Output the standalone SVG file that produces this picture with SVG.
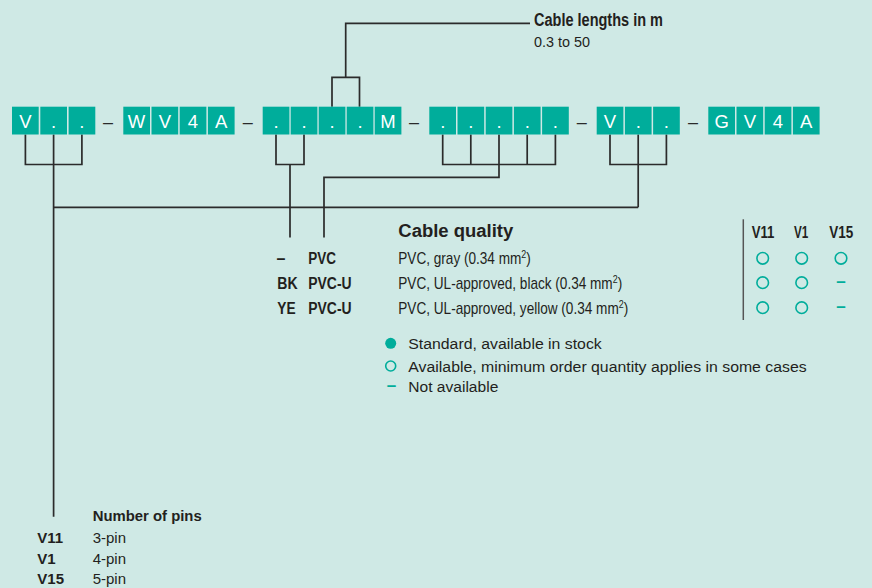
<svg xmlns="http://www.w3.org/2000/svg" width="872" height="588" viewBox="0 0 872 588">
<style>
.bx{fill:#00ad9b}
.bt{font-family:"Liberation Sans",Arial,sans-serif;font-size:18.5px;fill:#ffffff;text-anchor:middle}
.sep{font-family:"Liberation Sans",Arial,sans-serif;font-size:18px;fill:#2a2a2a;text-anchor:middle}
.ln{fill:none;stroke:#2b2b2b;stroke-width:1.7}
.t{font-family:"Liberation Sans",Arial,sans-serif;fill:#231f20}
.b{font-weight:bold}
.tl{fill:none;stroke:#00ad9b;stroke-width:1.6}
.td{font-family:"Liberation Sans",Arial,sans-serif;font-weight:bold;font-size:17px;fill:#00ad9b;text-anchor:middle}
</style>
<rect x="0" y="0" width="872" height="588" fill="#cfe9e5"/>

<g id="connectors">
  <path class="ln" d="M25.4 134.5 V164.5 H81.9 V134.5 M53.6 134.5 V516.7"/>
  <path class="ln" d="M53.6 207.3 H638.2"/>
  <path class="ln" d="M610 134.5 V164.5 H666.4 V134.5 M638.2 134.5 V207.3"/>
  <path class="ln" d="M276 134.5 V164.5 H304 V134.5 M290 164.5 V237.5"/>
  <path class="ln" d="M442.7 134.5 V164.5 H555.4 V134.5 M470.8 134.5 V164.5 M527.2 134.5 V164.5 M499 134.5 V177.3 H324 V237.5"/>
  <path class="ln" d="M332 106.7 V77.3 H359.5 V106.7 M345.7 77.3 V23.3 H530"/>
  <path d="M743.3 219.3 V320" stroke="#555" stroke-width="1.5" fill="none"/>
</g>

<g id="seg-v1">
  <rect class="bx" x="12" y="106.7" width="26.7" height="27.8"/>
  <rect class="bx" x="40.3" y="106.7" width="26.7" height="27.8"/>
  <rect class="bx" x="68.6" y="106.7" width="26.7" height="27.8"/>
  <text class="bt" x="25.4" y="127.5">V</text>
  <text class="bt" x="53.6" y="127.5">.</text>
  <text class="bt" x="81.9" y="127.5">.</text>
</g>
<text class="sep" x="108" y="127.5">–</text>
<g id="seg-wv4a">
  <rect class="bx" x="123.3" y="106.7" width="26.7" height="27.8"/>
  <rect class="bx" x="151.5" y="106.7" width="26.7" height="27.8"/>
  <rect class="bx" x="179.7" y="106.7" width="26.7" height="27.8"/>
  <rect class="bx" x="207.9" y="106.7" width="26.7" height="27.8"/>
  <text class="bt" x="136.6" y="127.5">W</text>
  <text class="bt" x="164.8" y="127.5">V</text>
  <text class="bt" x="193" y="127.5">4</text>
  <text class="bt" x="221.2" y="127.5">A</text>
</g>
<text class="sep" x="247.7" y="127.5">–</text>
<g id="seg-length">
  <rect class="bx" x="262.7" y="106.7" width="26.7" height="27.8"/>
  <rect class="bx" x="290.7" y="106.7" width="26.7" height="27.8"/>
  <rect class="bx" x="318.7" y="106.7" width="26.7" height="27.8"/>
  <rect class="bx" x="346.7" y="106.7" width="26.7" height="27.8"/>
  <rect class="bx" x="374.7" y="106.7" width="26.7" height="27.8"/>
  <text class="bt" x="276" y="127.5">.</text>
  <text class="bt" x="304" y="127.5">.</text>
  <text class="bt" x="332" y="127.5">.</text>
  <text class="bt" x="360" y="127.5">.</text>
  <text class="bt" x="388" y="127.5">M</text>
</g>
<text class="sep" x="414" y="127.5">–</text>
<g id="seg-quality">
  <rect class="bx" x="429.3" y="106.7" width="26.7" height="27.8"/>
  <rect class="bx" x="457.5" y="106.7" width="26.7" height="27.8"/>
  <rect class="bx" x="485.7" y="106.7" width="26.7" height="27.8"/>
  <rect class="bx" x="513.9" y="106.7" width="26.7" height="27.8"/>
  <rect class="bx" x="542.1" y="106.7" width="26.7" height="27.8"/>
  <text class="bt" x="442.7" y="127.5">.</text>
  <text class="bt" x="470.8" y="127.5">.</text>
  <text class="bt" x="499" y="127.5">.</text>
  <text class="bt" x="527.2" y="127.5">.</text>
  <text class="bt" x="555.4" y="127.5">.</text>
</g>
<text class="sep" x="581.7" y="127.5">–</text>
<g id="seg-v2">
  <rect class="bx" x="596.7" y="106.7" width="26.7" height="27.8"/>
  <rect class="bx" x="624.9" y="106.7" width="26.7" height="27.8"/>
  <rect class="bx" x="653.1" y="106.7" width="26.7" height="27.8"/>
  <text class="bt" x="610" y="127.5">V</text>
  <text class="bt" x="638.2" y="127.5">.</text>
  <text class="bt" x="666.4" y="127.5">.</text>
</g>
<text class="sep" x="693" y="127.5">–</text>
<g id="seg-gv4a">
  <rect class="bx" x="708.3" y="106.7" width="26.7" height="27.8"/>
  <rect class="bx" x="736.5" y="106.7" width="26.7" height="27.8"/>
  <rect class="bx" x="764.7" y="106.7" width="26.7" height="27.8"/>
  <rect class="bx" x="792.9" y="106.7" width="26.7" height="27.8"/>
  <text class="bt" x="721.6" y="127.5">G</text>
  <text class="bt" x="749.8" y="127.5">V</text>
  <text class="bt" x="778" y="127.5">4</text>
  <text class="bt" x="806.2" y="127.5">A</text>
</g>

<g id="label-length">
  <text class="t b" x="534" y="25.7" font-size="17.5" textLength="129" lengthAdjust="spacingAndGlyphs">Cable lengths in m</text>
  <text class="t" x="534" y="46.7" font-size="15.5" textLength="56" lengthAdjust="spacingAndGlyphs">0.3 to 50</text>
</g>

<g id="label-quality">
  <text class="t b" x="398.3" y="237.3" font-size="18" textLength="115" lengthAdjust="spacingAndGlyphs">Cable quality</text>
  <text class="t b" x="276.5" y="264" font-size="16">–</text>
  <text class="t b" x="308.3" y="264" font-size="16" textLength="27.7" lengthAdjust="spacingAndGlyphs">PVC</text>
  <text class="t b" x="277.3" y="289" font-size="16" textLength="20.3" lengthAdjust="spacingAndGlyphs">BK</text>
  <text class="t b" x="308.3" y="289" font-size="16" textLength="43.3" lengthAdjust="spacingAndGlyphs">PVC-U</text>
  <text class="t b" x="277.3" y="314" font-size="16" textLength="18.3" lengthAdjust="spacingAndGlyphs">YE</text>
  <text class="t b" x="308.3" y="314" font-size="16" textLength="43.3" lengthAdjust="spacingAndGlyphs">PVC-U</text>
  <text class="t" font-size="16" transform="translate(398.3 264) scale(0.85 1)">PVC, gray (0.34 mm<tspan font-size="10.5" dy="-6.5">2</tspan><tspan dy="6.5">)</tspan></text>
  <text class="t" font-size="16" transform="translate(398.3 289) scale(0.85 1)">PVC, UL-approved, black (0.34 mm<tspan font-size="10.5" dy="-6.5">2</tspan><tspan dy="6.5">)</tspan></text>
  <text class="t" font-size="16" transform="translate(398.3 314) scale(0.85 1)">PVC, UL-approved, yellow (0.34 mm<tspan font-size="10.5" dy="-6.5">2</tspan><tspan dy="6.5">)</tspan></text>
</g>

<g id="table-availability">
  <text class="t b" x="751.7" y="238.3" font-size="17" textLength="22.7" lengthAdjust="spacingAndGlyphs">V11</text>
  <text class="t b" x="794" y="238.3" font-size="17" textLength="14.3" lengthAdjust="spacingAndGlyphs">V1</text>
  <text class="t b" x="829.3" y="238.3" font-size="17" textLength="24" lengthAdjust="spacingAndGlyphs">V15</text>
  <circle class="tl" cx="762.7" cy="258.3" r="5.8"/>
  <circle class="tl" cx="801.7" cy="258.3" r="5.8"/>
  <circle class="tl" cx="841" cy="258.3" r="5.8"/>
  <circle class="tl" cx="762.7" cy="282.7" r="5.8"/>
  <circle class="tl" cx="801.7" cy="282.7" r="5.8"/>
  <text class="td" x="841" y="287.4">–</text>
  <circle class="tl" cx="762.7" cy="307.7" r="5.8"/>
  <circle class="tl" cx="801.7" cy="307.7" r="5.8"/>
  <text class="td" x="841" y="312.4">–</text>
</g>

<g id="legend">
  <circle cx="390.7" cy="343.3" r="5.5" fill="#00ad9b"/>
  <text class="t" x="408.3" y="349" font-size="15.5" textLength="193.4" lengthAdjust="spacingAndGlyphs">Standard, available in stock</text>
  <circle class="tl" cx="390.7" cy="366" r="5"/>
  <text class="t" x="408.3" y="371.5" font-size="15.5" textLength="398.4" lengthAdjust="spacingAndGlyphs">Available, minimum order quantity applies in some cases</text>
  <text class="td" x="391.5" y="391.4" font-size="16">–</text>
  <text class="t" x="408.3" y="391.7" font-size="15.5" textLength="90" lengthAdjust="spacingAndGlyphs">Not available</text>
</g>

<g id="label-pins">
  <text class="t b" x="92.7" y="520.7" font-size="15.5" textLength="109" lengthAdjust="spacingAndGlyphs">Number of pins</text>
  <text class="t b" x="37.3" y="543.3" font-size="15">V11</text>
  <text class="t" x="92.7" y="543.3" font-size="15">3-pin</text>
  <text class="t b" x="37.3" y="564" font-size="15">V1</text>
  <text class="t" x="92.7" y="564" font-size="15">4-pin</text>
  <text class="t b" x="37.3" y="584" font-size="15">V15</text>
  <text class="t" x="92.7" y="584" font-size="15">5-pin</text>
</g>
</svg>
